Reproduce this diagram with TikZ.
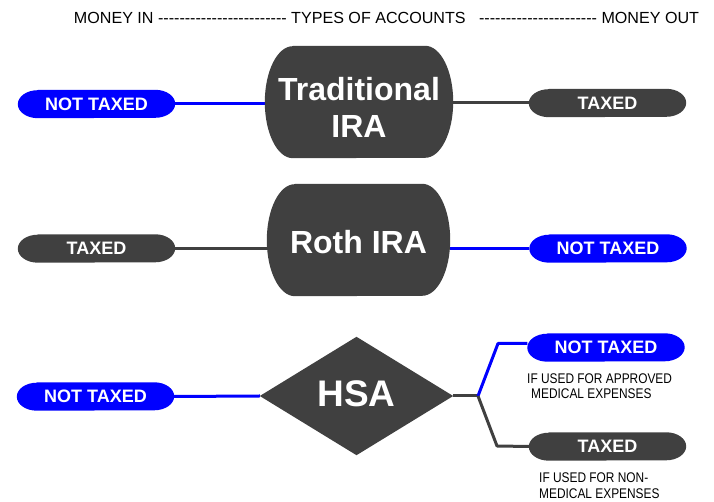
\documentclass[tikz,border=0pt]{standalone}
\usepackage{fontspec}
\setmainfont{Liberation Sans}
\usetikzlibrary{backgrounds}
\definecolor{dk}{HTML}{404040}
\definecolor{bl}{HTML}{0000FF}
\newcommand{\dd}{-{}}
\newcommand{\capsule}[4]{%
  \fill[#2] ([xshift=#3bp]#1.north west) -- ([xshift=-#3bp]#1.north east)
    arc[start angle=90,end angle=-90,x radius=#3bp,y radius=#4bp]
    -- ([xshift=#3bp]#1.south west)
    arc[start angle=270,end angle=90,x radius=#3bp,y radius=#4bp] -- cycle;}
\tikzset{
  pill/.style={rectangle, inner sep=0pt, minimum width=157bp, minimum height=28bp,
    text=white, font=\fontsize{18bp}{20bp}\selectfont\bfseries},
  bigbox/.style={rectangle, inner sep=0pt, minimum height=112bp},
  bigtext/.style={text=white, font=\fontsize{32bp}{37bp}\selectfont\bfseries, align=center, inner sep=0pt},
  note/.style={anchor=base west, inner sep=0pt, font=\fontsize{14bp}{16bp}\selectfont},
  conn/.style={line width=3bp, dk},
  bconn/.style={line width=3bp, bl},
}
\begin{document}
\begin{tikzpicture}[x=1bp,y=1bp]
\useasboundingbox (0,0) rectangle (714,502);

% header
\node[anchor=base, inner sep=0pt, font=\fontsize{16.1bp}{18bp}\selectfont] (hdr) at (386.5,478)
  {MONEY IN \dd\dd\dd\dd\dd\dd\dd\dd\dd\dd\dd\dd\dd\dd\dd\dd\dd\dd\dd\dd\dd\dd\dd\dd{} TYPES OF ACCOUNTS\ \ \ \dd\dd\dd\dd\dd\dd\dd\dd\dd\dd\dd\dd\dd\dd\dd\dd\dd\dd\dd\dd\dd\dd{} MONEY OUT};

% account shapes
\node[bigbox, minimum width=188bp] (trad) at (359,400) {};
\node[bigtext] (tradt) at (359,394.5) {Traditional\\IRA};
\node[bigbox, minimum width=183bp] (roth) at (358.5,262) {};
\node[bigtext] (rotht) at (358.5,260) {Roth IRA};
\node[rectangle, inner sep=0pt, minimum width=193bp, minimum height=118bp] (hsa) at (356.5,106) {};
\node[bigtext, font=\fontsize{37bp}{40bp}\selectfont\bfseries] (hsat) at (356.5,108.5) {HSA};

% pills
\node[pill] (p1) at (96.5,398) {NOT TAXED};
\node[pill] (p2) at (607.5,399) {TAXED};
\node[pill] (p3) at (96.5,253.5) {TAXED};
\node[pill] (p4) at (608,253.5) {NOT TAXED};
\node[pill] (p5) at (95.5,105.5) {NOT TAXED};
\node[pill] (p6) at (606,154.5) {NOT TAXED};
\node[pill] (p7) at (607.5,55.5) {TAXED};

% notes
\node[note] (n1a) at (527,118) {\scalebox{0.85}[1]{IF USED FOR APPROVED}};
\node[note] (n1b) at (531,103) {\scalebox{0.85}[1]{MEDICAL EXPENSES}};
\node[note] (n2a) at (539,19) {\scalebox{0.85}[1]{IF USED FOR NON-}};
\node[note] (n2b) at (539,3.5) {\scalebox{0.85}[1]{MEDICAL EXPENSES}};

\coordinate (j) at (478,106);
\coordinate (b1) at (498,158.5);
\coordinate (b2) at (497,56);

\begin{scope}[on background layer]
  % connectors
  \draw[bconn] (p1.east) -- (p1.east -| trad.west);
  \draw[conn] (trad.east |- p2.west) -- (p2.west);
  \draw[conn] (p3.east) -- (p3.east -| roth.west);
  \draw[bconn] (roth.east |- p4.west) -- (p4.west);
  \draw[bconn] (p5.east) -- (hsa.west);
  \draw[conn] (hsa.east) -- (j);
  \draw[bconn, line join=round] (j) -- (b1) -- (b1 -| p6.west);
  \draw[conn, line join=round] (j) -- (b2) -- (p7.west);
  % shapes
  \capsule{trad}{dk}{28}{56}
  \capsule{roth}{dk}{28}{56}
  \fill[dk] (hsa.west) -- (hsa.north) -- (hsa.east) -- (hsa.south) -- cycle;
  \capsule{p1}{bl}{20}{14}
  \capsule{p2}{dk}{20}{14}
  \capsule{p3}{dk}{20}{14}
  \capsule{p4}{bl}{20}{14}
  \capsule{p5}{bl}{20}{14}
  \capsule{p6}{bl}{20}{14}
  \capsule{p7}{dk}{20}{14}
\end{scope}
\end{tikzpicture}
\end{document}
